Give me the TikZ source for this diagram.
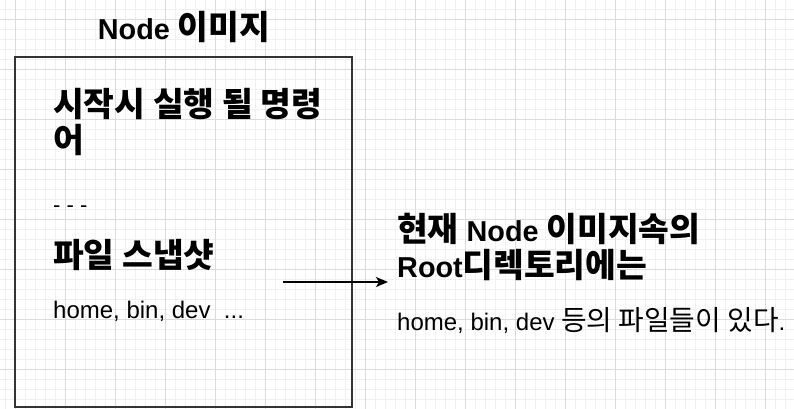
\documentclass[tikz,border=0pt]{standalone}
\usepackage{fontspec}
\setmainfont{Liberation Sans}
\newfontfamily\kr{Noto Sans CJK KR}[Scale=1.16]
\usetikzlibrary{arrows.meta}
\newcommand\K[1]{{\kr #1}}
\tikzset{
  gridminor/.style={draw=gray!12, line width=0.8pt},
  gridmajor/.style={draw=gray!28, line width=0.8pt},
  boxframe/.style={draw=black!80, line width=1.2pt},
  bigtxt/.style={anchor=base west, inner sep=0pt, font=\fontsize{28.8}{34.6}\selectfont\bfseries},
  smalltxt/.style={anchor=base west, inner sep=0pt, font=\fontsize{24}{28}\selectfont},
  conn/.style={line width=1.6pt, -{Stealth[length=12pt,width=10pt,inset=3pt]}}
}
\begin{document}
\begin{tikzpicture}[x=1pt,y=-1pt]
\useasboundingbox (0,0) rectangle (794,409);
\fill[white] (0,0) rectangle (794,409);
% grid
\foreach \x in {5,15,...,795} \draw[gridminor] (\x,0) -- (\x,409);
\foreach \y in {9,19,...,409} \draw[gridminor] (0,\y) -- (794,\y);
\foreach \x in {15,65,...,765} \draw[gridmajor] (\x,0) -- (\x,409);
\foreach \y in {19,69,...,369} \draw[gridmajor] (0,\y) -- (794,\y);
% box
\draw[boxframe] (15,57) rectangle (352,407);
\node[anchor=base, inner sep=0pt, font=\fontsize{28.8}{34.6}\selectfont\bfseries] (title) at (184,39.5) {Node \K{이미지}};
\node[bigtxt] (cmd1) at (53,117) {\K{시작시 실행 될 명령}};
\node[bigtxt] (cmd2) at (53,152) {\K{어}};
\node[anchor=base west, inner sep=0pt, font=\fontsize{22}{26}\selectfont] (dots) at (53,212) {- - -};
\node[bigtxt] (snap) at (53,267) {\K{파일 스냅샷}};
\node[smalltxt] (files) at (53,318) {home, bin, dev\ \ ...};
\node[bigtxt] (r1) at (397,241.7) {\K{현재} Node \K{이미지속의}};
\node[bigtxt] (r2) at (397,277.3) {Root\K{디렉토리에는}};
\node[smalltxt] (r3) at (397,330) {home, bin, dev \K{등의 파일들이 있다}.};
\coordinate (from) at (283,282);
\coordinate (to) at (388,282);
\draw[conn] (from) -- (to);
\end{tikzpicture}
\end{document}
